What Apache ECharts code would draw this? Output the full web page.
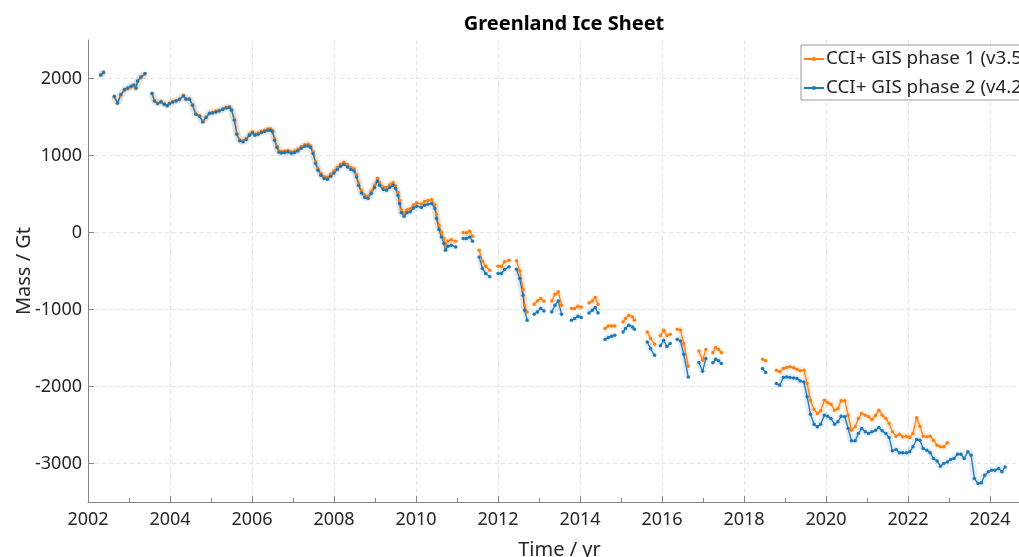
<!DOCTYPE html>
<html>
<head>
<meta charset="utf-8">
<title>Greenland Ice Sheet</title>
<script src="https://cdn.jsdelivr.net/npm/echarts@6/dist/echarts.min.js"></script>
<style>
  html, body { margin: 0; padding: 0; background: #fff; }
  #chart { width: 1019px; height: 557px; }
</style>
</head>
<body>
<div id="chart"></div>
<script>
// decimal years; null = gap in the record
var years = [
  2002.31, 2002.38, null,
  2002.64, 2002.72, 2002.80, 2002.89, 2002.97, 2003.05, 2003.12, 2003.17, 2003.21, 2003.29, 2003.39, null,
  2003.56, 2003.62, 2003.70, 2003.78, 2003.86, 2003.93, 2003.99, 2004.07, 2004.15, 2004.23,
  2004.33, 2004.39, 2004.47, 2004.55, 2004.63, 2004.72, 2004.80, 2004.88, 2004.96, 2005.04,
  2005.12, 2005.20, 2005.29, 2005.37, 2005.45, 2005.50, 2005.57, 2005.63, 2005.70, 2005.78,
  2005.86, 2005.94, 2006.01, 2006.07, 2006.15, 2006.23, 2006.31, 2006.39, 2006.45, 2006.50,
  2006.55, 2006.61, 2006.66, 2006.72, 2006.80, 2006.88, 2006.96, 2007.04, 2007.12, 2007.20,
  2007.29, 2007.37, 2007.43, 2007.49, 2007.55, 2007.61, 2007.68, 2007.76, 2007.84, 2007.92,
  2008.00, 2008.08, 2008.16, 2008.24, 2008.33, 2008.41, 2008.49, 2008.55, 2008.60, 2008.67,
  2008.75, 2008.83, 2008.91, 2008.99, 2009.06, 2009.11, 2009.20, 2009.28, 2009.36, 2009.44,
  2009.50, 2009.56, 2009.60, 2009.64, 2009.71, 2009.78, 2009.86, 2009.94, 2010.02, 2010.13,
  2010.21, 2010.29, 2010.38, 2010.46, 2010.50, 2010.56, 2010.62, 2010.68, 2010.72, 2010.78,
  2010.86, 2010.97, null,
  2011.15, 2011.23, 2011.31, 2011.38, null,
  2011.54, 2011.62, 2011.70, 2011.80, null,
  2012.00, 2012.08, 2012.16, 2012.27, null,
  2012.45, 2012.53, 2012.61, 2012.65, 2012.71, null,
  2012.88, 2012.96, 2013.04, 2013.12, null,
  2013.31, 2013.39, 2013.47, 2013.55, null,
  2013.79, 2013.87, 2013.95, 2014.03, null,
  2014.22, 2014.30, 2014.37, 2014.44, null,
  2014.61, 2014.69, 2014.77, 2014.85, null,
  2015.05, 2015.11, 2015.19, 2015.28, 2015.33, null,
  2015.64, 2015.72, 2015.82, null,
  2015.96, 2016.04, 2016.12, 2016.20, null,
  2016.37, 2016.45, 2016.53, 2016.64, null,
  2016.90, 2016.99, 2017.07, null,
  2017.24, 2017.31, 2017.38, 2017.45, null,
  2018.45, 2018.53, null,
  2018.79, 2018.87, 2018.96,
  2019.04, 2019.12, 2019.21, 2019.29, 2019.37, 2019.46, 2019.54, 2019.62, 2019.71, 2019.79, 2019.87, 2019.96,
  2020.04, 2020.12, 2020.21, 2020.29, 2020.37, 2020.46, 2020.54, 2020.62, 2020.71, 2020.79, 2020.87, 2020.96,
  2021.04, 2021.12, 2021.21, 2021.29, 2021.37, 2021.46, 2021.54, 2021.62, 2021.71, 2021.79, 2021.87, 2021.96,
  2022.04, 2022.12, 2022.21, 2022.29, 2022.37, 2022.46, 2022.54, 2022.62, 2022.71, 2022.79, 2022.87, 2022.96,
  2023.04, 2023.12, 2023.21, 2023.29, 2023.37, 2023.46, 2023.54, 2023.62, 2023.71, 2023.79, 2023.87, 2023.96,
  2024.04, 2024.12, 2024.21, 2024.29, 2024.37
];

// CCI+ GIS phase 2 (v4.2), Gt
var phase2 = [
  2043, 2078, null,
  1770, 1683, 1792, 1857, 1878, 1900, 1915, 1878, 1969, 2021, 2065, null,
  1805, 1709, 1675, 1696, 1666, 1645, 1675, 1696, 1709, 1727,
  1774, 1731, 1731, 1653, 1536, 1510, 1436, 1493, 1545, 1553,
  1566, 1579, 1597, 1618, 1623, 1588, 1458, 1277, 1190, 1177,
  1208, 1264, 1294, 1264, 1277, 1299, 1312, 1329, 1329, 1307,
  1199, 1104, 1043, 1034, 1039, 1047, 1030, 1039, 1060, 1095,
  1121, 1125, 1104, 1026, 896, 809, 744, 701, 692, 731,
  774, 818, 861, 887, 852, 818, 800, 722, 614, 514,
  455, 442, 506, 584, 670, 614, 558, 549, 584, 614,
  571, 480, 377, 255, 212, 255, 268, 319, 342, 325,
  355, 368, 377, 312, 182, 39, -57, -143, -230, -178,
  -165, -187, null,
  -78, -78, -57, -113, null,
  -317, -468, -532, -576, null,
  -532, -532, -481, -446, null,
  -477, -598, -814, -1009, -1139, null,
  -1061, -1031, -987, -1018, null,
  -1031, -944, -888, -1061, null,
  -1139, -1117, -1087, -1104, null,
  -1044, -1009, -974, -1044, null,
  -1390, -1364, -1347, -1334, null,
  -1291, -1247, -1204, -1226, -1256, null,
  -1421, -1507, -1594, null,
  -1470, -1400, -1480, -1440, null,
  -1386, -1408, -1581, -1875, null,
  -1688, -1801, -1636, null,
  -1693, -1645, -1667, -1701, null,
  -1766, -1818, null,
  -1961, -1983, -1883,
  -1875, -1883, -1888, -1896, -1927, -1940, -2134, -2360, -2489, -2524, -2489, -2373,
  -2386, -2416, -2489, -2459, -2386, -2394, -2546, -2706, -2706, -2611, -2546, -2589,
  -2611, -2589, -2567, -2533, -2576, -2611, -2663, -2836, -2818, -2862, -2862, -2862,
  -2849, -2784, -2689, -2697, -2805, -2827, -2862, -2935, -2966, -3035, -3000, -2979,
  -2948, -2935, -2879, -2879, -2935, -2849, -2892, -3195, -3260, -3251, -3152, -3108,
  -3087, -3087, -3065, -3108, -3044
];

// CCI+ GIS phase 1 (v3.5), Gt
var phase1 = [
  2050, 2085, null,
  1760, 1675, 1782, 1847, 1868, 1890, 1905, 1868, 1959, 2011, 2057, null,
  1810, 1714, 1680, 1701, 1671, 1650, 1680, 1702, 1715, 1733,
  1780, 1737, 1737, 1660, 1543, 1517, 1444, 1501, 1553, 1563,
  1576, 1589, 1607, 1628, 1634, 1599, 1470, 1290, 1203, 1190,
  1221, 1277, 1308, 1279, 1292, 1314, 1328, 1345, 1346, 1324,
  1216, 1121, 1060, 1052, 1057, 1065, 1049, 1058, 1080, 1115,
  1141, 1146, 1125, 1048, 918, 831, 767, 724, 716, 755,
  799, 843, 887, 913, 879, 845, 828, 750, 643, 543,
  485, 472, 537, 616, 703, 648, 592, 584, 620, 650,
  608, 518, 416, 295, 252, 296, 310, 362, 386, 370,
  401, 415, 425, 362, 235, 95, 2, -80, -165, -110,
  -95, -115, null,
  0, -2, 17, -48, null,
  -230, -373, -438, -490, null,
  -438, -440, -381, -360, null,
  -368, -498, -740, -950, -1031, null,
  -931, -888, -857, -892, null,
  -888, -801, -771, -944, null,
  -987, -987, -957, -970, null,
  -914, -888, -844, -931, null,
  -1247, -1213, -1213, -1213, null,
  -1161, -1117, -1074, -1096, -1139, null,
  -1291, -1377, -1451, null,
  -1340, -1270, -1340, -1320, null,
  -1256, -1269, -1442, -1736, null,
  -1538, -1658, -1520, null,
  -1563, -1494, -1520, -1563, null,
  -1645, -1667, null,
  -1788, -1810, -1766,
  -1753, -1745, -1758, -1775, -1797, -1788, -1961, -2178, -2299, -2351, -2316, -2178,
  -2212, -2230, -2308, -2286, -2186, -2186, -2373, -2567, -2524, -2416, -2351, -2373,
  -2394, -2429, -2373, -2308, -2373, -2416, -2481, -2589, -2645, -2619, -2654, -2645,
  -2663, -2611, -2407, -2515, -2645, -2654, -2645, -2697, -2762, -2784, -2784, -2732,
  null, null, null, null, null, null, null, null, null, null, null, null,
  null, null, null, null, null
];

var yTicks = [-3000, -2000, -1000, 0, 1000, 2000];

var name1 = 'CCI+ GIS phase 1 (v3.5)';
var name2 = 'CCI+ GIS phase 2 (v4.2)';
var col1 = '#ff7f0e';
var col2 = '#1f77b4';
var font = 'Noto Sans';

function pairs(vals) {
  var out = [];
  for (var i = 0; i < years.length; i++) {
    if (years[i] == null || vals[i] == null) out.push(['-', '-']);
    else out.push([years[i], vals[i]]);
  }
  return out;
}

function band(name, vals, color) {
  return {
    name: name, type: 'line', data: pairs(vals), silent: true,
    showSymbol: false, connectNulls: false, animation: false,
    lineStyle: { color: color, width: 7, opacity: 0.12 }, z: 1
  };
}

function main(name, vals, color) {
  return {
    name: name, type: 'line', data: pairs(vals),
    symbol: 'circle', symbolSize: 3.5, showSymbol: true, connectNulls: false,
    itemStyle: { color: color }, lineStyle: { color: color, width: 1.3 },
    animation: false, z: 3
  };
}

var axisGray = '#858585';
var textCol = '#262626';

var chart = echarts.init(document.getElementById('chart'), null, { renderer: 'canvas' });
chart.setOption({
  backgroundColor: '#fff',
  animation: false,
  title: {
    text: 'Greenland Ice Sheet', left: 559, top: 9, textAlign: 'center',
    textStyle: { fontFamily: font, fontSize: 20, fontWeight: 'bold', color: '#000' }
  },
  legend: {
    data: [name1, name2], orient: 'vertical', left: 801, top: 45,
    backgroundColor: '#fff', borderColor: '#999', borderWidth: 1, borderRadius: 0,
    padding: [3, 6, 1, 2], itemGap: 7, itemWidth: 20, itemHeight: 5,
    textStyle: { fontFamily: font, fontSize: 18.8, color: textCol, lineHeight: 22, padding: [0, 0, 0, -3] }
  },
  // the axes run slightly past the right edge of the picture
  grid: { left: 88, top: 40, width: 943, height: 462, containLabel: false, outerBoundsMode: 'none' },
  xAxis: {
    type: 'value', min: 2002, max: 2025, interval: 2,
    name: 'Time / yr', nameLocation: 'middle', nameGap: 38,
    nameTextStyle: { fontFamily: font, fontSize: 20, color: textCol },
    axisLine: { show: true, onZero: false, lineStyle: { color: axisGray } },
    axisTick: { show: true, inside: true, length: 6, lineStyle: { color: axisGray } },
    minorTick: { show: true, splitNumber: 2, length: 4, lineStyle: { color: axisGray } },
    axisLabel: { fontFamily: font, fontSize: 18, color: textCol, margin: 9, showMaxLabel: false,
      formatter: function (v) { return String(v); } },
    splitLine: { show: true, lineStyle: { color: '#e3e3e3', type: [4, 3] } }
  },
  yAxis: {
    type: 'value', min: -3500, max: 2500,
    name: 'Mass / Gt', nameLocation: 'middle', nameGap: 54, nameMoveOverlap: false,
    nameTextStyle: { fontFamily: font, fontSize: 20, color: textCol },
    axisLine: { show: true, onZero: false, lineStyle: { color: axisGray } },
    axisTick: { show: true, inside: true, length: 6, customValues: yTicks, lineStyle: { color: axisGray } },
    axisLabel: { fontFamily: font, fontSize: 18, color: textCol, margin: 6, customValues: yTicks,
      formatter: function (v) { return String(v); } },
    splitLine: { show: true, lineStyle: { color: '#e3e3e3', type: [4, 3] } }
  },
  series: [
    band('band1', phase1, col1),
    band('band2', phase2, col2),
    main(name1, phase1, col1),
    main(name2, phase2, col2)
  ]
});
</script>
</body>
</html>
